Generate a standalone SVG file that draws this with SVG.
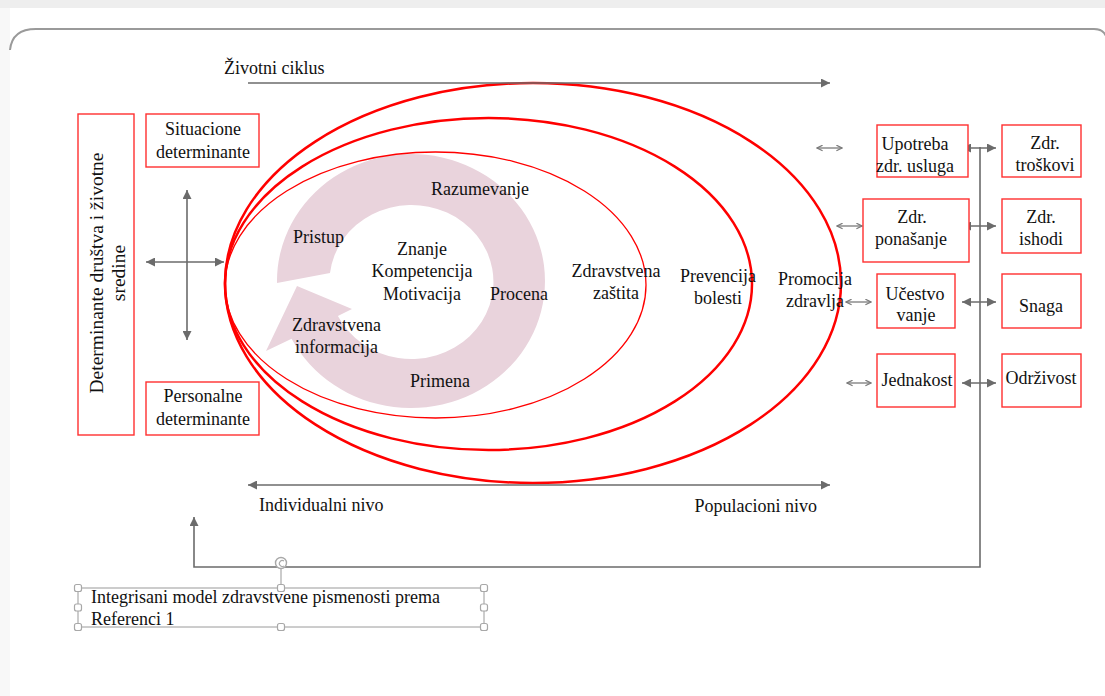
<svg xmlns="http://www.w3.org/2000/svg" width="1105" height="696" viewBox="0 0 1105 696">
<style>
text{font-family:"Liberation Serif","Times New Roman",serif;font-size:18px;fill:#111}
.box{fill:#fff;stroke:#ff3030;stroke-width:1.4}
.ell{fill:none;stroke:#ff0000}
.ar{stroke:#6b6b6b;stroke-width:1.6;fill:none}
.sm{stroke:#7a7a7a;stroke-width:1.3;fill:none}
.h{fill:#fff;stroke:#a8a8a8;stroke-width:1.2}
.c{text-anchor:middle}
</style>
<defs>
<marker id="ah" viewBox="0 0 10 10" refX="10" refY="5" markerWidth="9" markerHeight="9" markerUnits="userSpaceOnUse" orient="auto-start-reverse"><path d="M0,0 L10,5 L0,10 z" fill="#6b6b6b"/></marker>
<marker id="ch" viewBox="0 0 10 10" refX="9" refY="5" markerWidth="7" markerHeight="7" markerUnits="userSpaceOnUse" orient="auto-start-reverse"><path d="M1,1 L9,5 L1,9" fill="none" stroke="#7a7a7a" stroke-width="1.8"/></marker>
</defs>
<rect width="1105" height="696" fill="#fff"/>
<rect width="1105" height="8" fill="#eeeeee"/>
<rect x="0" y="8" width="10" height="688" fill="#f8f8f8"/>
<path d="M10,50 Q12,29 36,29 L1094,29 Q1103,29 1106,36" fill="none" stroke="#9a9a9a" stroke-width="2"/>

<g id="cycle">
<path d="M277,283 A134,127 0 1 1 291.6,338.7 L266,351 L297,286 L352,309 L337.9,316 A82,77 0 1 0 330,273 Z" fill="#e9d3dc"/>
</g>
<g id="ellipses">
<ellipse class="ell" cx="533" cy="283" rx="308" ry="200" stroke-width="2.5"/>
<ellipse class="ell" cx="488.5" cy="284" rx="263.5" ry="166" stroke-width="2.5"/>
<ellipse class="ell" cx="435.5" cy="285" rx="210.5" ry="133" stroke-width="1.3"/>
</g>

<g id="connectors">
<line class="ar" x1="248" y1="83" x2="830" y2="83" marker-end="url(#ah)"/>
<line class="ar" x1="248" y1="485" x2="830" y2="485" marker-start="url(#ah)" marker-end="url(#ah)"/>
<line class="ar" x1="187" y1="190" x2="187" y2="340" marker-start="url(#ah)" marker-end="url(#ah)"/>
<line class="ar" x1="146" y1="262" x2="224" y2="262" marker-start="url(#ah)" marker-end="url(#ah)"/>
<line class="sm" x1="817" y1="148" x2="842" y2="148" marker-start="url(#ch)" marker-end="url(#ch)"/>
<line class="sm" x1="837" y1="226" x2="862" y2="226" marker-start="url(#ch)" marker-end="url(#ch)"/>
<line class="sm" x1="846" y1="302" x2="871" y2="302" marker-start="url(#ch)" marker-end="url(#ch)"/>
<line class="sm" x1="847" y1="383" x2="871" y2="383" marker-start="url(#ch)" marker-end="url(#ch)"/>
<line class="ar" x1="962" y1="148" x2="996" y2="148" marker-start="url(#ah)" marker-end="url(#ah)"/>
<line class="ar" x1="962" y1="226" x2="996" y2="226" marker-start="url(#ah)" marker-end="url(#ah)"/>
<line class="ar" x1="962" y1="302" x2="996" y2="302" marker-start="url(#ah)" marker-end="url(#ah)"/>
<line class="ar" x1="962" y1="383" x2="996" y2="383" marker-start="url(#ah)" marker-end="url(#ah)"/>
<polyline class="ar" stroke="#808080" points="980,147 980,567 194,567 194,517" marker-end="url(#ah)"/>
</g>

<g id="t-zivotni"><text x="224" y="74">Životni ciklus</text></g>
<g id="t-ind"><text x="259" y="511">Individualni nivo</text></g>
<g id="t-pop"><text x="817" y="512" text-anchor="end">Populacioni nivo</text></g>

<g id="n-drustvo">
<rect class="box" x="78" y="114" width="56" height="321"/>
<text class="c" style="font-size:19.5px" transform="translate(103,273) rotate(-90)">Determinante društva i životne</text>
<text class="c" style="font-size:19.5px" transform="translate(125,273) rotate(-90)">sredine</text>
</g>
<g id="n-situacione">
<rect class="box" x="146" y="114" width="113" height="53"/>
<text class="c" x="203" y="135">Situacione</text>
<text class="c" x="203" y="158">determinante</text>
</g>
<g id="n-personalne">
<rect class="box" x="146" y="382" width="113" height="53"/>
<text class="c" x="203" y="402">Personalne</text>
<text class="c" x="203" y="425">determinante</text>
</g>

<g id="n-inner">
<text x="431" y="195">Razumevanje</text>
<text x="293" y="243">Pristup</text>
<text class="c" x="422" y="255">Znanje</text>
<text class="c" x="422" y="277">Kompetencija</text>
<text class="c" x="422" y="300">Motivacija</text>
<text x="490" y="300">Procena</text>
<text x="292" y="331">Zdravstvena</text>
<text x="295" y="353">informacija</text>
<text x="410" y="387">Primena</text>
</g>
<g id="n-zastita">
<text class="c" x="616" y="277">Zdravstvena</text>
<text class="c" x="616" y="299">zaštita</text>
</g>
<g id="n-prevencija">
<text class="c" x="718" y="282">Prevencija</text>
<text class="c" x="718" y="304">bolesti</text>
</g>
<g id="n-promocija">
<text class="c" x="815" y="285">Promocija</text>
<text class="c" x="815" y="307">zdravlja</text>
</g>

<g id="n-upotreba">
<rect class="box" x="877" y="125" width="91" height="52"/>
<text class="c" x="915" y="150">Upotreba</text>
<text class="c" x="915" y="172">zdr. usluga</text>
</g>
<g id="n-troskovi">
<rect class="box" x="1002" y="125" width="79" height="52"/>
<text class="c" x="1045" y="149">Zdr.</text>
<text class="c" x="1045" y="171">troškovi</text>
</g>
<g id="n-ponasanje">
<rect class="box" x="863" y="199" width="106" height="63"/>
<text class="c" x="912" y="223">Zdr.</text>
<text class="c" x="911" y="245">ponašanje</text>
</g>
<g id="n-ishodi">
<rect class="box" x="1002" y="199" width="79" height="54"/>
<text class="c" x="1041" y="223">Zdr.</text>
<text class="c" x="1041" y="245">ishodi</text>
</g>
<g id="n-ucestvovanje">
<rect class="box" x="877" y="274" width="78" height="54"/>
<text class="c" x="915" y="300">Učestvo</text>
<text class="c" x="916" y="321">vanje</text>
</g>
<g id="n-snaga">
<rect class="box" x="1002" y="274" width="79" height="54"/>
<text class="c" x="1041" y="312">Snaga</text>
</g>
<g id="n-jednakost">
<rect class="box" x="877" y="354" width="78" height="53"/>
<text class="c" x="917" y="386">Jednakost</text>
</g>
<g id="n-odrzivost">
<rect class="box" x="1002" y="354" width="79" height="53"/>
<text class="c" x="1041" y="384">Održivost</text>
</g>

<g id="caption">
<line x1="281" y1="569" x2="281" y2="588" stroke="#a8a8a8" stroke-width="1.2"/>
<circle cx="281" cy="563" r="5.5" fill="#fff" stroke="#a8a8a8" stroke-width="1.4"/>
<path d="M284,561 A3,3 0 1 0 284,566" fill="none" stroke="#a8a8a8" stroke-width="1.1"/>
<rect x="78" y="588" width="406" height="39" fill="none" stroke="#9a9a9a" stroke-width="1"/>
<text x="91" y="603">Integrisani model zdravstvene pismenosti prema</text>
<text x="91" y="625">Referenci 1</text>
<rect class="h" x="74.5" y="584.5" width="7" height="7" rx="2"/>
<rect class="h" x="277.5" y="584.5" width="7" height="7" rx="2"/>
<rect class="h" x="480.5" y="584.5" width="7" height="7" rx="2"/>
<rect class="h" x="74.5" y="604" width="7" height="7" rx="2"/>
<rect class="h" x="480.5" y="604" width="7" height="7" rx="2"/>
<rect class="h" x="74.5" y="623.5" width="7" height="7" rx="2"/>
<rect class="h" x="277.5" y="623.5" width="7" height="7" rx="2"/>
<rect class="h" x="480.5" y="623.5" width="7" height="7" rx="2"/>
</g>
</svg>
